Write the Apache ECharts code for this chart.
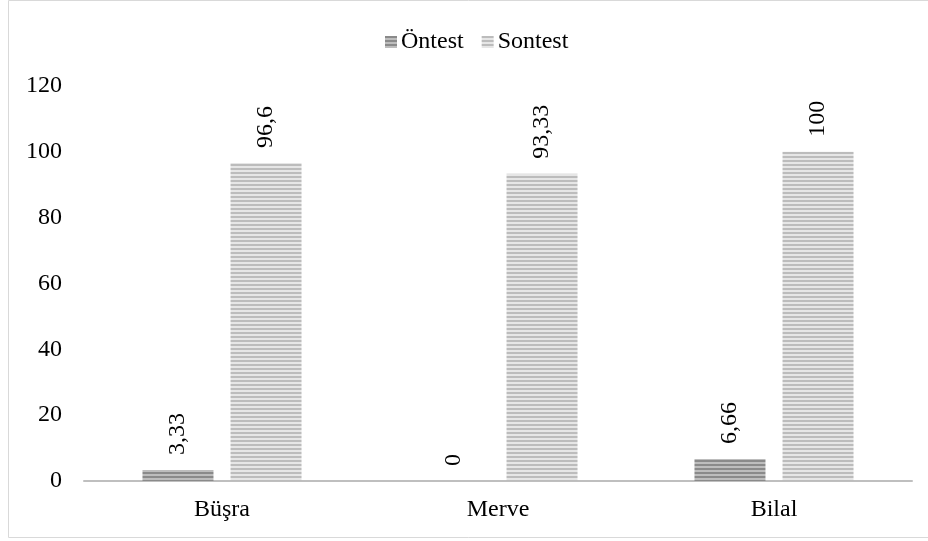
<!DOCTYPE html>
<html>
<head>
<meta charset="utf-8">
<script src="https://cdn.jsdelivr.net/npm/echarts@6/dist/echarts.min.js"></script>
<style>
  html, body { margin: 0; padding: 0; background: #fff; }
  #chart { width: 928px; height: 541px; }
</style>
</head>
<body>
<div id="chart"></div>
<script>
// Students and their pre-test / post-test scores
const categories = ['Büşra', 'Merve', 'Bilal'];
const ontest = [3.33, 0, 6.66];
const sontest = [96.6, 93.33, 100];
const seriesNames = ['Öntest', 'Sontest'];

// Horizontal stripe fill, drawn on a small canvas and repeated
function stripes(dark, light) {
  const c = document.createElement('canvas');
  c.width = 4; c.height = 4;
  const ctx = c.getContext('2d');
  ctx.fillStyle = light; ctx.fillRect(0, 0, 4, 4);
  ctx.fillStyle = dark; ctx.fillRect(0, 0, 4, 2);
  return { image: c, repeat: 'repeat' };
}

const font = '"Liberation Serif", "Times New Roman", serif';
const fs = 24;
const fmt = v => String(v).replace('.', ',');

const barLabel = {
  show: true,
  position: 'top',
  rotate: 90,
  align: 'left',
  verticalAlign: 'middle',
  distance: 15,
  fontFamily: font,
  fontSize: fs,
  color: '#000',
  formatter: p => fmt(p.value)
};

const chart = echarts.init(document.getElementById('chart'));
chart.setOption({
  animation: false,
  textStyle: { fontFamily: font },
  graphic: [{
    type: 'rect',
    shape: { x: 8.5, y: 0.5, width: 940, height: 537 },
    style: { fill: 'none', stroke: '#d9d9d9', lineWidth: 1 },
    silent: true
  }],
  legend: {
    top: 25,
    left: 380,
    icon: 'rect',
    itemWidth: 12,
    itemHeight: 12,
    itemGap: 18,
    textStyle: { fontFamily: font, fontSize: fs, color: '#000', padding: [0, 0, 0, -1] },
    data: seriesNames
  },
  grid: { left: 84, right: 16, top: 86, bottom: 60 },
  xAxis: {
    type: 'category',
    data: categories,
    axisLine: { lineStyle: { color: '#bfbfbf', width: 2 } },
    axisTick: { show: false },
    axisLabel: { fontFamily: font, fontSize: fs, color: '#000', margin: 17 }
  },
  yAxis: {
    type: 'value',
    min: 0,
    max: 120,
    interval: 20,
    axisLine: { show: false },
    axisTick: { show: false },
    splitLine: { show: false },
    axisLabel: { fontFamily: font, fontSize: fs, color: '#000', margin: 22 }
  },
  series: [
    {
      name: seriesNames[0],
      type: 'bar',
      data: ontest,
      barWidth: 71,
      barGap: '24%',
      itemStyle: { color: stripes('#8a8a8a', '#bdbdbd') },
      label: barLabel
    },
    {
      name: seriesNames[1],
      type: 'bar',
      data: sontest,
      barWidth: 71,
      barGap: '24%',
      itemStyle: { color: stripes('#bcbcbc', '#e6e6e6') },
      label: barLabel
    }
  ]
});
</script>
</body>
</html>
